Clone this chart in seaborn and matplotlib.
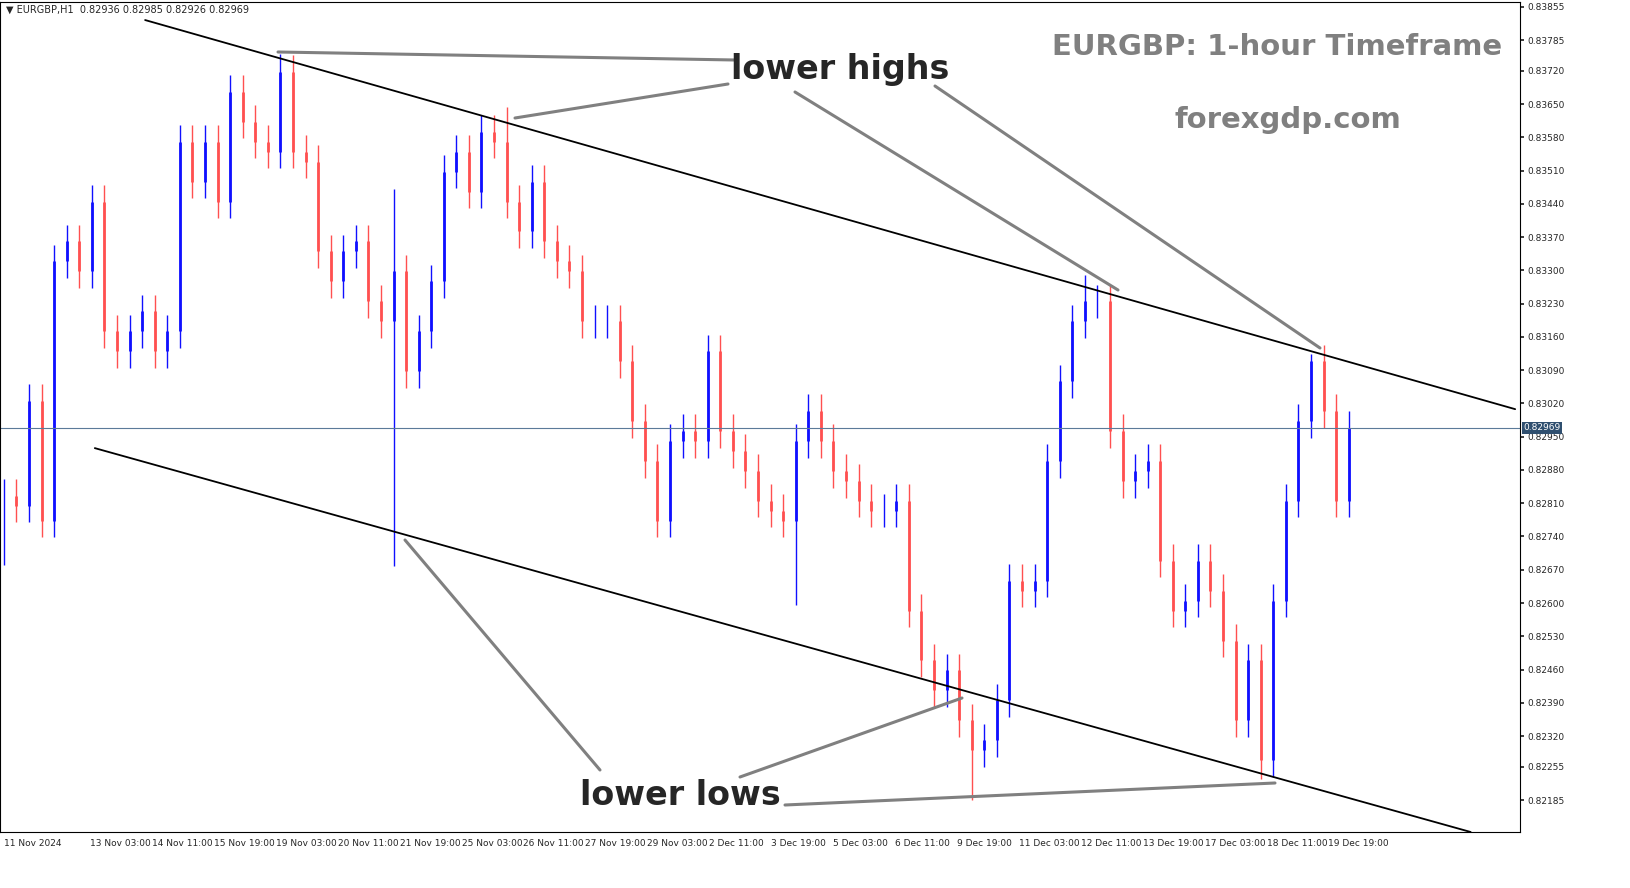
import numpy as np
import pandas as pd
import seaborn as sns
import matplotlib.pyplot as plt

# closing prices (roughly 6-hour steps)
closes = [0.82825, 0.82805, 0.83025, 0.82773, 0.83319, 0.83361, 0.83298, 0.83445, 0.83172, 0.83130,
          0.83172, 0.83214, 0.83130, 0.83172, 0.83571, 0.83487, 0.83571, 0.83445, 0.83676, 0.83613,
          0.83571, 0.83550, 0.83718, 0.83550, 0.83529, 0.83340, 0.83277, 0.83340, 0.83361, 0.83235,
          0.83193, 0.83298, 0.83088, 0.83172, 0.83277, 0.83508, 0.83550, 0.83466, 0.83592, 0.83571,
          0.83445, 0.83382, 0.83487, 0.83361, 0.83319, 0.83298, 0.83193, 0.83193, 0.83193, 0.83109,
          0.82983, 0.82899, 0.82773, 0.82941, 0.82962, 0.82941, 0.83130, 0.82962, 0.82920, 0.82878,
          0.82815, 0.82794, 0.82773, 0.82941, 0.83004, 0.82941, 0.82878, 0.82857, 0.82815, 0.82794,
          0.82794, 0.82815, 0.82584, 0.82479, 0.82416, 0.82458, 0.82353, 0.82290, 0.82311, 0.82395,
          0.82647, 0.82626, 0.82647, 0.82899, 0.83067, 0.83193, 0.83235, 0.83235, 0.82962, 0.82857,
          0.82878, 0.82899, 0.82689, 0.82584, 0.82605, 0.82689, 0.82626, 0.82521, 0.82353, 0.82479,
          0.82269, 0.82605, 0.82815, 0.82983, 0.83109, 0.83004, 0.82815, 0.82969]
spike_high = {22: 0.83756, 31: 0.83472, 40: 0.83645, 86: 0.83290, 104: 0.83125}
spike_low = {0: 0.82679, 31: 0.82678, 63: 0.82595, 77: 0.82185, 100: 0.82230}

date_labels = ["11 Nov 2024", "13 Nov 03:00", "14 Nov 11:00", "15 Nov 19:00", "19 Nov 03:00",
               "20 Nov 11:00", "21 Nov 19:00", "25 Nov 03:00", "26 Nov 11:00", "27 Nov 19:00",
               "29 Nov 03:00", "2 Dec 11:00", "3 Dec 19:00", "5 Dec 03:00", "6 Dec 11:00",
               "9 Dec 19:00", "11 Dec 03:00", "12 Dec 11:00", "13 Dec 19:00", "17 Dec 03:00",
               "18 Dec 11:00", "19 Dec 19:00"]
price_ticks = [0.82185, 0.82255, 0.82320, 0.82390, 0.82460, 0.82530, 0.82600, 0.82670, 0.82740,
               0.82810, 0.82880, 0.82950, 0.83020, 0.83090, 0.83160, 0.83230, 0.83300, 0.83370,
               0.83440, 0.83510, 0.83580, 0.83650, 0.83720, 0.83785, 0.83855]
upper_line = ([73, 781], [0.83827, 0.83008])
lower_line = ([47, 758], [0.82926, 0.82118])
last_price = 0.82969

n = len(closes)
hours = np.linspace(0, 695, n)
opens = [closes[0]] + closes[:-1]
df = pd.DataFrame({"h": hours, "o": opens, "c": closes})
wick = 0.00035
df["hi"] = [spike_high.get(i, max(o, c) + wick) for i, (o, c) in enumerate(zip(opens, closes))]
df["lo"] = [spike_low.get(i, min(o, c) - wick) for i, (o, c) in enumerate(zip(opens, closes))]
df["up"] = df["c"] >= df["o"]

sns.set_theme(style="white")
plt.rcParams['font.family'] = ['DejaVu Sans']
fig = plt.figure(figsize=(16.31, 8.88), dpi=100)
ax = fig.add_axes([0.0, 1 - 832 / 888, 1520 / 1631, 830 / 888])

for up, col in [(True, "#1010ff"), (False, "#ff5050")]:
    d = df[df["up"] == up]
    ax.vlines(d["h"], d["lo"], d["hi"], color=col, lw=1.0)
    ax.vlines(d["h"], d["o"], d["c"], color=col, lw=2.0)

ax.plot(*upper_line, color="black", lw=1.3)
ax.plot(*lower_line, color="black", lw=1.3)
ax.axhline(last_price, color="#5b7a99", lw=0.8)

ax.set_xlim(-2, 783.5)
ax.set_ylim(0.82118, 0.83865)
ax.yaxis.tick_right()
ax.set_yticks(price_ticks)
ax.set_yticklabels([f"{p:.5f}" for p in price_ticks], fontsize=6.5)
xt = [0] + [44.5 + 32 * k for k in range(len(date_labels) - 1)]
ax.set_xticks(xt)
ax.set_xticklabels(date_labels, fontsize=6.5, ha="left")
ax.tick_params(length=3, pad=2)
for s in ax.spines.values():
    s.set_color("black")
    s.set_linewidth(0.8)
ax.text(1.002, (last_price - 0.82118) / (0.83865 - 0.82118), "0.82969", transform=ax.transAxes,
        fontsize=6.5, color="white", va="center",
        bbox=dict(boxstyle="square,pad=0.15", fc="#2f4f6f", ec="none"))

def P(x, y):
    return (x / 1631, 1 - y / 888)

T = fig.transFigure
fig.text(*P(6, 10), "▼ EURGBP,H1  0.82936 0.82985 0.82926 0.82969", fontsize=7, va="center")
fig.text(*P(1277, 47), "EURGBP: 1-hour Timeframe", fontsize=21, color="#808080",
         fontweight="bold", ha="center", va="center")
fig.text(*P(1288, 120), "forexgdp.com", fontsize=21, color="#808080",
         fontweight="bold", ha="center", va="center")
fig.text(*P(840, 70), "lower highs", fontsize=24, fontweight="bold", ha="center", va="center")
fig.text(*P(680, 795), "lower lows", fontsize=24, fontweight="bold", ha="center", va="center")
pointers = [((735, 60), (278, 52)), ((728, 84), (515, 118)), ((795, 92), (1118, 290)),
            ((935, 86), (1320, 348)), ((600, 770), (405, 540)), ((740, 777), (962, 698)),
            ((785, 805), (1275, 783))]
for a, b in pointers:
    pa, pb = P(*a), P(*b)
    fig.add_artist(plt.Line2D([pa[0], pb[0]], [pa[1], pb[1]], transform=T,
                              color="#808080", lw=2.2))

fig.savefig("out.png", dpi=100)
